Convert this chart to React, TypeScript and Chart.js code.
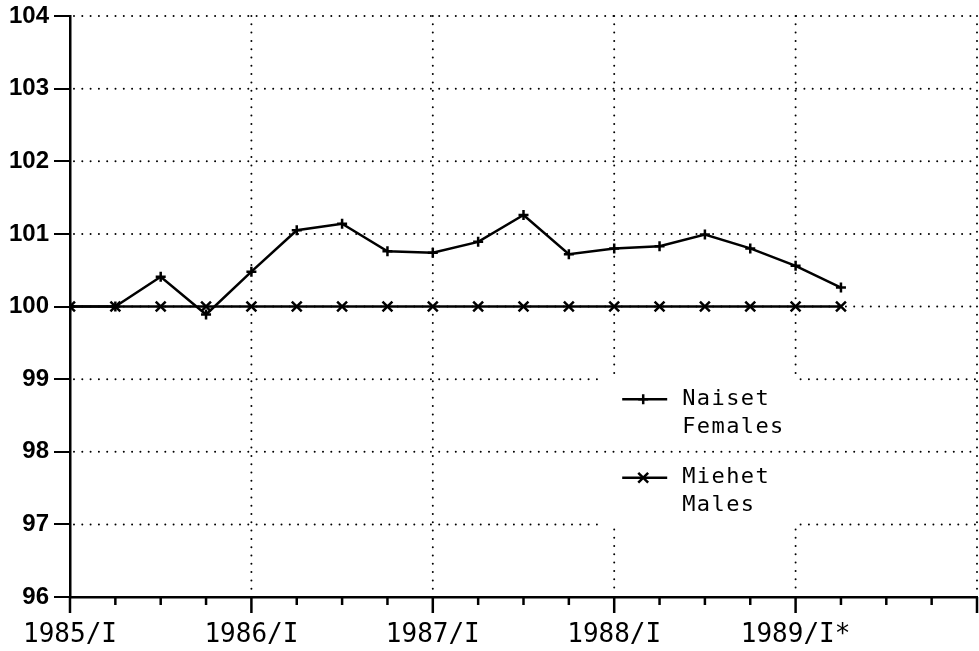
import React, { useEffect, useRef } from "react";
import { Chart, registerables } from "chart.js";

Chart.register(...registerables);

// Quarter index counted from 1985/I
const quarters = [0, 1, 2, 3, 4, 5, 6, 7, 8, 9, 10, 11, 12, 13, 14, 15, 16, 17];
const females = [100.0, 100.0, 100.41, 99.89, 100.48, 101.05, 101.14, 100.76, 100.74, 100.89, 101.26, 100.72, 100.8, 100.83, 100.99, 100.8, 100.56, 100.26];
const males = [100, 100, 100, 100, 100, 100, 100, 100, 100, 100, 100, 100, 100, 100, 100, 100, 100, 100];
const yearLabels = ["1985/I", "1986/I", "1987/I", "1988/I", "1989/I*"];
const seriesLabels = [["Naiset", "Females"], ["Miehet", "Males"]];
const yMin = 96;
const yMax = 104;
const xMax = 20;
// region of the grid left open for the key (in data units)
const keyArea = { x0: 12, x1: 16, yTop: 99, yBottom: 97 };

const MONO = "'DejaVu Sans Mono', monospace";

function drawMarker(ctx: CanvasRenderingContext2D, style: string, cx: number, cy: number, r: number) {
  ctx.beginPath();
  if (style === "cross") {
    ctx.moveTo(cx - r, cy);
    ctx.lineTo(cx + r, cy);
    ctx.moveTo(cx, cy - r);
    ctx.lineTo(cx, cy + r);
  } else {
    const o = r * Math.SQRT1_2;
    ctx.moveTo(cx - o, cy - o);
    ctx.lineTo(cx + o, cy + o);
    ctx.moveTo(cx - o, cy + o);
    ctx.lineTo(cx + o, cy - o);
  }
  ctx.stroke();
}

const gridPlugin = {
  id: "dotGrid",
  beforeDatasetsDraw(chart: any) {
    const { ctx, chartArea: ca, scales } = chart;
    const x = scales.x;
    const y = scales.y;
    ctx.save();
    ctx.strokeStyle = "#000";
    ctx.lineWidth = 2;
    ctx.lineCap = "round";
    ctx.setLineDash([0, 8.3]);
    const gx0 = x.getPixelForValue(keyArea.x0) - 12;
    const gx1 = x.getPixelForValue(keyArea.x1) + 5;
    const gy0 = y.getPixelForValue(keyArea.yTop) - 5;
    const gy1 = y.getPixelForValue(keyArea.yBottom) + 5;
    const seg = (ax: number, ay: number, bx: number, by: number) => {
      ctx.beginPath();
      ctx.moveTo(ax, ay);
      ctx.lineTo(bx, by);
      ctx.stroke();
    };
    for (let v = yMin + 1; v <= yMax; v++) {
      const py = y.getPixelForValue(v);
      if (v === keyArea.yTop || v === keyArea.yBottom) {
        seg(ca.left + 4, py, gx0, py);
        seg(gx1, py, ca.right, py);
      } else {
        seg(ca.left + 4, py, ca.right, py);
      }
    }
    for (let q = 4; q <= xMax; q += 4) {
      const px = x.getPixelForValue(q);
      if (q === keyArea.x0 || q === keyArea.x1) {
        seg(px, ca.top, px, gy0);
        seg(px, gy1, px, ca.bottom - 3);
      } else {
        seg(px, ca.top, px, ca.bottom - 3);
      }
    }
    // quarter tick marks on the time axis
    ctx.setLineDash([]);
    ctx.lineCap = "butt";
    ctx.lineWidth = 2.5;
    for (let q = 0; q <= xMax; q++) {
      const px = x.getPixelForValue(q);
      const len = q % 4 === 0 ? 16 : 8;
      seg(px, ca.bottom, px, ca.bottom + len);
    }
    ctx.restore();
  },
  afterDraw(chart: any) {
    const { ctx, scales } = chart;
    const x = scales.x;
    const y = scales.y;
    const left = x.getPixelForValue(keyArea.x0);
    const rowTops = [y.getPixelForValue(keyArea.yTop) + 20, y.getPixelForValue(keyArea.yTop - 1) + 26];
    ctx.save();
    ctx.strokeStyle = "#000";
    ctx.fillStyle = "#000";
    chart.data.datasets.forEach((ds: any, i: number) => {
      const ry = rowTops[i];
      ctx.lineWidth = 2.5;
      ctx.beginPath();
      ctx.moveTo(left + 8, ry);
      ctx.lineTo(left + 53, ry);
      ctx.stroke();
      drawMarker(ctx, ds.pointStyle, left + 29, ry, ds.pointStyle === "cross" ? 5 : 7);
      ctx.font = `22px ${MONO}`;
      (ctx as any).letterSpacing = "1.4px";
      ctx.textBaseline = "middle";
      ctx.textAlign = "left";
      seriesLabels[i].forEach((t, j) => ctx.fillText(t, left + 68, ry + j * 28));
    });
    ctx.restore();
  },
};

export default function App() {
  const ref = useRef<HTMLCanvasElement>(null);
  useEffect(() => {
    document.body.style.margin = "0";
    document.body.style.overflow = "hidden";
    const chart = new Chart(ref.current as HTMLCanvasElement, {
      type: "line",
      data: {
        datasets: [
          {
            label: seriesLabels[0].join(" "),
            data: quarters.map((q, i) => ({ x: q, y: females[i] })),
            borderColor: "#000",
            borderWidth: 2.5,
            pointStyle: "cross",
            pointRadius: 5,
            pointBorderWidth: 2.5,
            pointBorderColor: "#000",
            tension: 0,
          },
          {
            label: seriesLabels[1].join(" "),
            data: quarters.map((q, i) => ({ x: q, y: males[i] })),
            borderColor: "#000",
            borderWidth: 2.5,
            pointStyle: "crossRot",
            pointRadius: 7,
            pointBorderWidth: 2.5,
            pointBorderColor: "#000",
            tension: 0,
          },
        ],
      },
      options: {
        animation: false,
        responsive: false,
        layout: { autoPadding: false, padding: { top: 16, right: 2, left: 0, bottom: 0 } },
        plugins: { legend: { display: false }, tooltip: { enabled: false } },
        scales: {
          x: {
            type: "linear",
            min: 0,
            max: xMax,
            afterFit: (s: any) => {
              s.height = 54;
              s.paddingLeft = 0;
              s.paddingRight = 0;
            },
            grid: { display: false, drawTicks: false, tickLength: 0 },
            border: { display: true, color: "#000", width: 2.5 },
            ticks: {
              stepSize: 1,
              autoSkip: false,
              maxRotation: 0,
              padding: 23,
              color: "#000",
              font: { family: MONO, size: 26 },
              callback: (v: any) => (Number(v) % 4 === 0 ? yearLabels[Number(v) / 4] ?? "" : ""),
            },
          },
          y: {
            type: "linear",
            min: yMin,
            max: yMax,
            afterFit: (s: any) => {
              s.width = 70;
              s.paddingTop = 0;
              s.paddingBottom = 0;
            },
            grid: { drawOnChartArea: false, drawTicks: true, tickLength: 16, color: "#000", lineWidth: 2 },
            border: { display: true, color: "#000", width: 2.5 },
            ticks: {
              stepSize: 1,
              padding: 5,
              color: "#000",
              font: { family: "'Liberation Sans', Arial, sans-serif", size: 24, weight: "bold" },
            },
          },
        },
      },
      plugins: [gridPlugin],
    });
    return () => chart.destroy();
  }, []);
  return (
    <div style={{ position: "fixed", left: 0, top: 0, width: 979, height: 651, background: "#fff" }}>
      <canvas ref={ref} width={979} height={651} />
    </div>
  );
}
